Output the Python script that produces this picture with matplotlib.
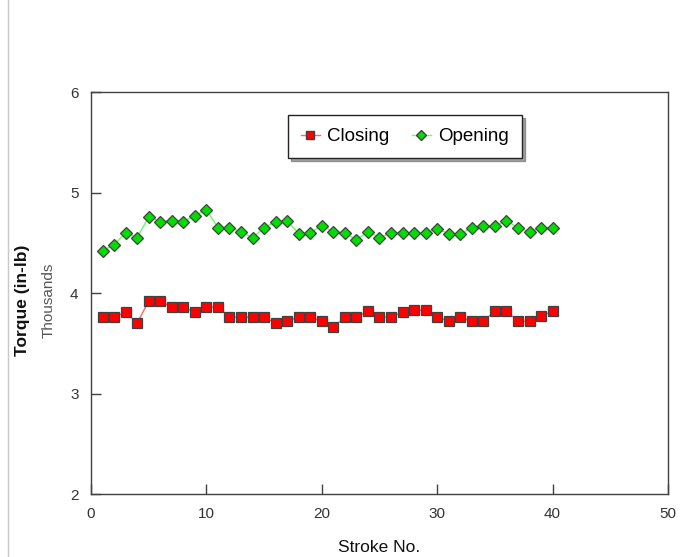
import matplotlib
matplotlib.use("Agg")
import matplotlib.pyplot as plt
from matplotlib.lines import Line2D

plt.rcParams["font.family"] = ["Liberation Sans", "DejaVu Sans"]

# stroke numbers and torque readings (thousands of in-lb)
strokes = list(range(1, 41))
closing = [3.76, 3.76, 3.81, 3.70, 3.92, 3.92, 3.86, 3.86, 3.81, 3.86,
           3.86, 3.76, 3.76, 3.76, 3.76, 3.70, 3.72, 3.76, 3.76, 3.72,
           3.66, 3.76, 3.76, 3.82, 3.76, 3.76, 3.81, 3.83, 3.83, 3.76,
           3.72, 3.76, 3.72, 3.72, 3.82, 3.82, 3.72, 3.72, 3.77, 3.82]
opening = [4.42, 4.48, 4.60, 4.55, 4.76, 4.71, 4.72, 4.71, 4.77, 4.83,
           4.65, 4.65, 4.61, 4.55, 4.65, 4.71, 4.72, 4.59, 4.60, 4.67,
           4.61, 4.60, 4.53, 4.61, 4.55, 4.60, 4.60, 4.60, 4.60, 4.64,
           4.59, 4.59, 4.65, 4.67, 4.67, 4.72, 4.65, 4.61, 4.65, 4.65]

x_ticks = [0, 10, 20, 30, 40, 50]
y_ticks = [2, 3, 4, 5, 6]

fig = plt.figure(figsize=(6.82, 5.57), dpi=100)
ax = fig.add_axes([0.1334, 0.1131, 0.8461, 0.7217])

ax.plot(strokes, closing, color="#ff6666", lw=1.0, marker="s", markersize=7.2,
        markerfacecolor="#ff0000", markeredgecolor="#404040", markeredgewidth=0.9,
        label="Closing")
ax.plot(strokes, opening, color="#66ff66", lw=1.0, marker="D", markersize=6.2,
        markerfacecolor="#00dd00", markeredgecolor="#404040", markeredgewidth=0.9,
        label="Opening")

ax.set_xlim(0, 50)
ax.set_ylim(2, 6)
ax.set_xticks(x_ticks)
ax.set_yticks(y_ticks)
ax.tick_params(direction="in", length=7, width=1, color="#404040",
               labelsize=11, labelcolor="#333333", pad=9)
for s in ax.spines.values():
    s.set_color("#404040")
    s.set_linewidth(1.0)

ax.set_xlabel("Stroke No.", fontsize=12.5, labelpad=14, color="#111111")
fig.text(0.033, 0.46, "Torque (in-lb)", rotation=90, fontsize=12.5,
         fontweight="bold", ha="center", va="center", color="#111111")
fig.text(0.071, 0.46, "Thousands", rotation=90, fontsize=11,
         ha="center", va="center", color="#555555")

handles = [Line2D([], [], color="#ff6666", lw=1.0, marker="s", markersize=6,
                  markerfacecolor="#ff0000", markeredgecolor="#404040"),
           Line2D([], [], color="#66ff66", lw=1.0, marker="D", markersize=5,
                  markerfacecolor="#00dd00", markeredgecolor="#404040")]
leg = ax.legend(handles, ["Closing", "Opening"], ncol=2, loc="center",
                bbox_to_anchor=(0.544, 0.889), fontsize=13.5, frameon=True,
                fancybox=False, shadow=True, edgecolor="#222222",
                borderpad=0.7, handlelength=1.0, handletextpad=0.4,
                columnspacing=1.2)
leg.get_frame().set_linewidth(1.0)

# left border line of the original frame
fig.add_artist(Line2D([0.012, 0.012], [0.0, 1.0], color="#c8c8c8", lw=1.0))

fig.savefig("out.png", dpi=100)
